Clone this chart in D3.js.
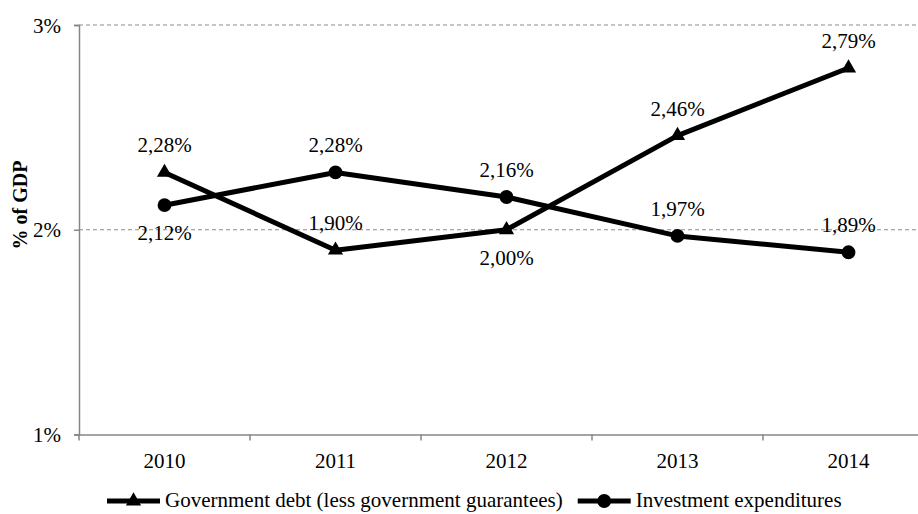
<!DOCTYPE html>
<html>
<head>
<meta charset="utf-8">
<script src="https://cdn.jsdelivr.net/npm/d3@7"></script>
<style>
  body { margin: 0; background: #fff; }
</style>
</head>
<body>
<div id="chart"></div>
<script>
const years = ["2010", "2011", "2012", "2013", "2014"];
const govDebt = [2.28, 1.90, 2.00, 2.46, 2.79];
const investment = [2.12, 2.28, 2.16, 1.97, 1.89];
const govLabelPos = ["above", "above", "below", "above", "above"];
const invLabelPos = ["below", "above", "above", "above", "above"];
const yTicks = [1, 2, 3];
const legendLabels = ["Government debt (less government guarantees)", "Investment expenditures"];

const width = 918, height = 514;
const margin = { top: 25, left: 79, bottom: 79.5 };
const serif = "'Liberation Serif', 'Times New Roman', serif";
const fontSize = 21;

const svg = d3.select("#chart").append("svg")
  .attr("width", width)
  .attr("height", height)
  .style("font-family", serif)
  .style("font-size", fontSize + "px");

const x = d3.scaleBand()
  .domain(years)
  .range([margin.left, margin.left + 171 * years.length]);

const y = d3.scaleLinear()
  .domain([1, 3])
  .range([height - margin.bottom, margin.top]);

// gridlines
svg.append("g")
  .selectAll("line")
  .data(yTicks.filter(d => d > 1))
  .enter().append("line")
  .attr("x1", margin.left)
  .attr("x2", width)
  .attr("y1", d => y(d))
  .attr("y2", d => y(d))
  .attr("stroke", "#8c8c8c")
  .attr("stroke-width", 1.2)
  .attr("stroke-dasharray", "4,3");

// y axis
const yAxis = svg.append("g")
  .attr("transform", `translate(${margin.left},0)`)
  .call(d3.axisLeft(y).tickValues(yTicks).tickFormat(d => d + "%").tickSizeOuter(0).tickSize(5));
yAxis.attr("font-family", null).attr("font-size", null);
yAxis.select(".domain").attr("stroke", "#868686").attr("stroke-width", 1.5);
yAxis.selectAll(".tick line").attr("stroke", "#868686").attr("stroke-width", 1.5);
yAxis.selectAll("text")
  .attr("fill", "#000")
  .attr("x", -18)
  .attr("dy", "0.34em");

// x axis
const xAxis = svg.append("g")
  .attr("transform", `translate(0,${y(1)})`)
  .call(d3.axisBottom(x).tickSize(0).tickSizeOuter(0));
xAxis.attr("font-family", null).attr("font-size", null);
xAxis.select(".domain").attr("stroke", "#868686").attr("stroke-width", 1.5);
xAxis.selectAll("text")
  .attr("fill", "#000")
  .attr("y", 33)
  .attr("dy", 0);
svg.append("g")
  .selectAll("line")
  .data(years)
  .enter().append("line")
  .attr("x1", d => x(d))
  .attr("x2", d => x(d))
  .attr("y1", y(1))
  .attr("y2", y(1) + 6)
  .attr("stroke", "#868686")
  .attr("stroke-width", 1.5);

// y title
svg.append("text")
  .attr("transform", `translate(27,205) rotate(-90)`)
  .attr("text-anchor", "middle")
  .attr("font-weight", "bold")
  .style("font-size", "20px")
  .text("% of GDP");

const cx = d => x(d) + x.bandwidth() / 2;
const line = d3.line()
  .x(d => cx(d.year))
  .y(d => y(d.value));

const series = [
  { values: govDebt, pos: govLabelPos, marker: d3.symbolTriangle, size: 100 },
  { values: investment, pos: invLabelPos, marker: d3.symbolCircle, size: 150 }
];

const fmt = v => v.toFixed(2).replace(".", ",") + "%";

series.forEach(s => {
  const pts = years.map((yr, i) => ({ year: yr, value: s.values[i], pos: s.pos[i] }));
  svg.append("path")
    .datum(pts)
    .attr("fill", "none")
    .attr("stroke", "#000")
    .attr("stroke-width", 5)
    .attr("stroke-linejoin", "round")
    .attr("d", line);

  svg.append("g")
    .selectAll("path")
    .data(pts)
    .enter().append("path")
    .attr("d", d3.symbol().type(s.marker).size(s.size))
    .attr("transform", d => `translate(${cx(d.year)},${y(d.value)})`)
    .attr("fill", "#000");

  svg.append("g")
    .selectAll("text")
    .data(pts)
    .enter().append("text")
    .attr("x", d => cx(d.year))
    .attr("y", d => y(d.value) + (d.pos === "above" ? -20 : 35))
    .attr("text-anchor", "middle")
    .text(d => fmt(d.value));
});

// legend
const ly = 501;
let lx = 107;
series.forEach((s, i) => {
  const g = svg.append("g");
  g.append("line")
    .attr("x1", lx).attr("x2", lx + 53)
    .attr("y1", ly).attr("y2", ly)
    .attr("stroke", "#000").attr("stroke-width", 5);
  g.append("path")
    .attr("d", d3.symbol().type(s.marker).size(s.size))
    .attr("transform", `translate(${lx + 26.5},${ly})`)
    .attr("fill", "#000");
  const t = g.append("text")
    .attr("x", lx + 58)
    .attr("y", ly + 6)
    .text(legendLabels[i]);
  lx = lx + 58 + t.node().getComputedTextLength() + 15;
});
</script>
</body>
</html>
